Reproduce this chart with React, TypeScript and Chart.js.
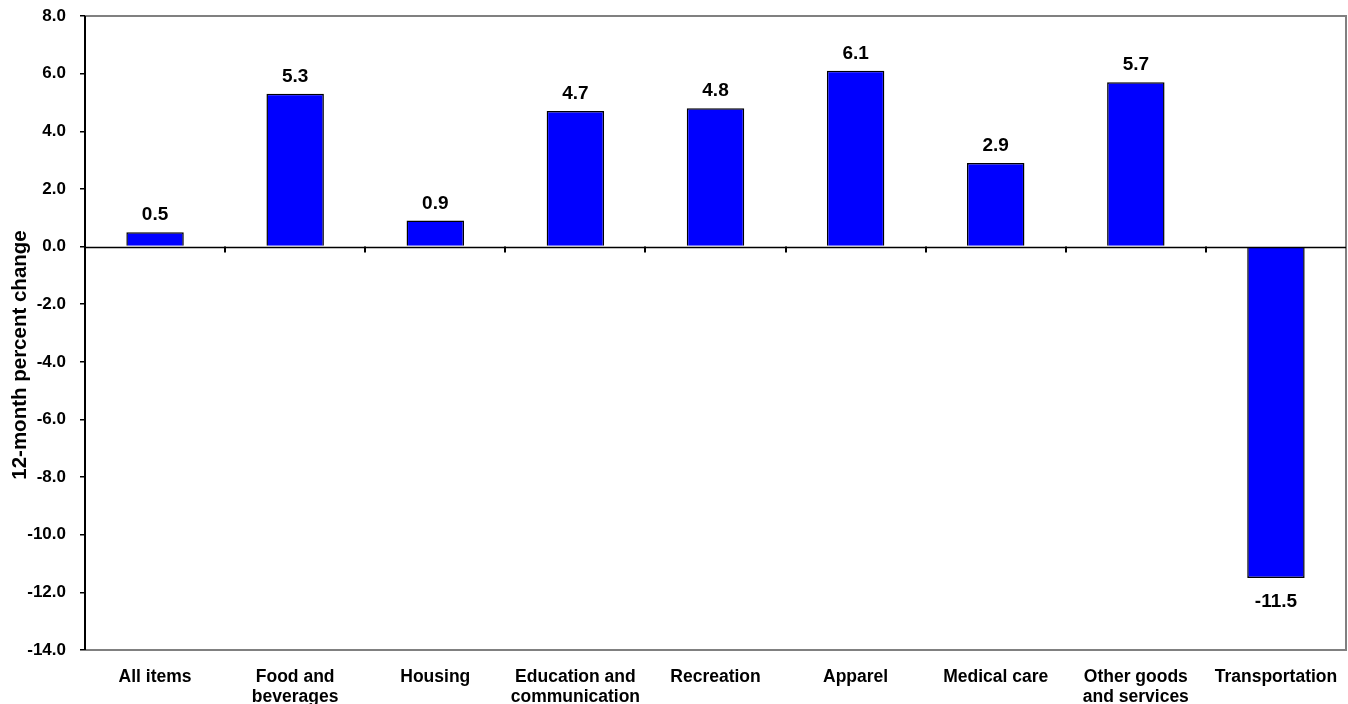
import React, { useEffect, useRef } from "react";
import { Chart, registerables } from "chart.js";

Chart.register(...registerables);

const categories: (string | string[])[] = [
  "All items",
  ["Food and", "beverages"],
  "Housing",
  ["Education and", "communication"],
  "Recreation",
  "Apparel",
  "Medical care",
  ["Other goods", "and services"],
  "Transportation",
];
const values: number[] = [0.5, 5.3, 0.9, 4.7, 4.8, 6.1, 2.9, 5.7, -11.5];
const yMin = -14;
const yMax = 8;
const yStep = 2;
const yTitle = "12-month percent change";

const FONT = "'Liberation Sans', Arial, sans-serif";

const framePlugin = {
  id: "frame",
  afterDatasetsDraw(chart: any) {
    const { ctx, chartArea } = chart;
    const { left, right, top, bottom } = chartArea;
    const y0 = chart.scales.y.getPixelForValue(0);
    ctx.save();
    // gray frame top/right/bottom
    ctx.strokeStyle = "#808080";
    ctx.lineWidth = 2;
    ctx.beginPath();
    ctx.moveTo(left, top);
    ctx.lineTo(right, top);
    ctx.lineTo(right, bottom);
    ctx.lineTo(left, bottom);
    ctx.stroke();
    // left axis black
    ctx.strokeStyle = "#000";
    ctx.lineWidth = 2;
    ctx.beginPath();
    ctx.moveTo(left, top);
    ctx.lineTo(left, bottom);
    ctx.stroke();
    // zero line
    ctx.lineWidth = 1.5;
    ctx.beginPath();
    ctx.moveTo(left, Math.round(y0) + 0.5);
    ctx.lineTo(right, Math.round(y0) + 0.5);
    ctx.stroke();
    // category boundary ticks on zero line
    const n = chart.data.labels.length;
    const w = (right - left) / n;
    ctx.lineWidth = 2;
    ctx.beginPath();
    for (let i = 1; i < n; i++) {
      const x = Math.round(left + w * i);
      ctx.moveTo(x, y0);
      ctx.lineTo(x, y0 + 6);
    }
    ctx.stroke();
    // value labels
    ctx.fillStyle = "#000";
    ctx.font = `bold 19px ${FONT}`;
    ctx.textAlign = "center";
    ctx.textBaseline = "alphabetic";
    const meta = chart.getDatasetMeta(0);
    meta.data.forEach((bar: any, i: number) => {
      const v = values[i];
      const txt = v.toFixed(1);
      if (v >= 0) ctx.fillText(txt, bar.x, bar.y - 12);
      else ctx.fillText(txt, bar.x, bar.y + 29);
    });
    // y-axis title
    ctx.save();
    ctx.translate(20, 355);
    ctx.rotate(-Math.PI / 2);
    ctx.font = `bold 20.5px ${FONT}`;
    ctx.textAlign = "center";
    ctx.textBaseline = "middle";
    ctx.fillText(yTitle, 0, 0);
    ctx.restore();
    ctx.restore();
  },
};

export default function App() {
  const ref = useRef<HTMLCanvasElement>(null);
  useEffect(() => {
    document.body.style.margin = "0";
    const chart = new Chart(ref.current as HTMLCanvasElement, {
      type: "bar",
      data: {
        labels: categories,
        datasets: [
          {
            data: values,
            backgroundColor: "#0000FF",
            borderColor: "#000000",
            borderWidth: 1.5,
            barPercentage: 0.41,
            categoryPercentage: 1,
          },
        ],
      },
      options: {
        responsive: false,
        animation: false,
        devicePixelRatio: 1,
        layout: { padding: { top: 16, right: 2, left: 0, bottom: 0 } },
        plugins: {
          legend: { display: false },
          tooltip: { enabled: false },
        },
        scales: {
          x: {
            grid: { display: false, drawTicks: false },
            border: { display: false },
            ticks: {
              color: "#000",
              font: { family: FONT, size: 17.5, weight: "bold", lineHeight: 1.15 },
              maxRotation: 0,
              minRotation: 0,
              autoSkip: false,
              padding: 17,
            },
            afterFit(scale: any) {
              scale.height = 54;
              scale.paddingLeft = 0;
              scale.paddingRight = 0;
            },
          },
          y: {
            min: yMin,
            max: yMax,
            grid: {
              drawOnChartArea: false,
              drawTicks: true,
              tickLength: 5,
              color: "#000",
              lineWidth: 1.5,
            },
            border: { display: true, color: "#000", width: 2 },
            ticks: {
              stepSize: yStep,
              color: "#000",
              padding: 14,
              font: { family: FONT, size: 17, weight: "bold" },
              callback: (v: any) => Number(v).toFixed(1),
            },
            afterFit(scale: any) {
              scale.width = 85;
              scale.paddingTop = 0;
              scale.paddingBottom = 0;
            },
          },
        },
      },
      plugins: [framePlugin],
    });
    return () => chart.destroy();
  }, []);
  return (
    <div style={{ position: "fixed", left: 0, top: 0, width: 1348, height: 704, background: "#fff" }}>
      <canvas ref={ref} width={1348} height={704} />
    </div>
  );
}
